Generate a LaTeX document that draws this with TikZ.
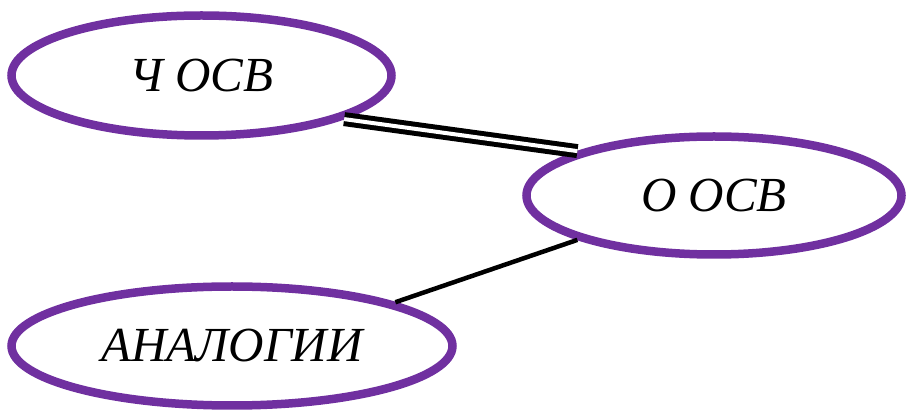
\documentclass[tikz,border=0pt]{standalone}
\usepackage{fontspec}
\setmainfont{Liberation Serif}
\usetikzlibrary{shapes.geometric}
\definecolor{ellpurple}{HTML}{7030A0}
\begin{document}
\begin{tikzpicture}[x=1pt,y=-1pt]
			\tikzstyle{oval}=[ellipse,draw=ellpurple,fill=white,line width=8.5pt,inner sep=0,
				font=\fontsize{49}{56}\selectfont\itshape]
			\tikzstyle{link}=[line width=4.5pt]
			\tikzstyle{dlink}=[line width=5pt,double=white,double distance=4pt]
			
			\useasboundingbox (0,0) rectangle (906,411);
			
			\node [oval,minimum width=380pt,minimum height=120pt] (chosv) at (201.5, 75.5) {Ч ОСВ};
			\node [oval,minimum width=375pt,minimum height=118pt] (oosv) at (714, 195.5) {О ОСВ};
			\node [oval,minimum width=441pt,minimum height=119pt] (analog) at (232, 346) {АНАЛОГИИ};
			
			\draw[dlink] (chosv.-17)--(oosv.162.5);
			\draw[link] (analog.15.6)--(oosv.198.6);
		\end{tikzpicture}
\end{document}
